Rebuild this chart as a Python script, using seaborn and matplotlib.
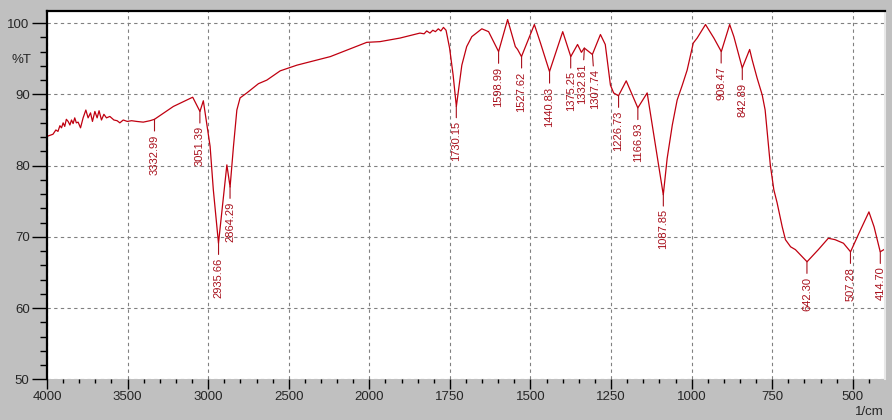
import numpy as np
import pandas as pd
import matplotlib
matplotlib.use('Agg')
import matplotlib.pyplot as plt
from matplotlib import font_manager
from matplotlib.ticker import FixedLocator, NullFormatter
import seaborn as sns

# -------------------------------
# Spectrum data
# -------------------------------
wavenumber = [
    4000, 3963, 3945, 3932, 3920, 3910, 3900, 3890, 3880, 3869, 3858, 3848,
    3838, 3828, 3818, 3807, 3792, 3776, 3759, 3745, 3730, 3718, 3703, 3689,
    3677, 3662, 3647, 3631, 3610, 3585, 3565, 3548, 3527, 3502, 3475, 3444,
    3403, 3361, 3333, 3216, 3096, 3051, 3030, 2988, 2968, 2936, 2884, 2864,
    2843, 2822, 2802, 2760, 2688, 2636, 2553, 2449, 2242, 2016, 1967, 1905,
    1843, 1830, 1822, 1812, 1803, 1795, 1786, 1778, 1770, 1762, 1751, 1740,
    1730, 1713, 1698, 1682, 1651, 1630, 1599, 1571, 1547, 1540, 1528, 1488,
    1469, 1441, 1400, 1375, 1354, 1342, 1333, 1308, 1283, 1268, 1252, 1242,
    1227, 1203, 1167, 1138, 1088, 1076, 1060, 1045, 1029, 1014, 995, 983,
    957, 931, 908, 882, 869, 843, 820, 812, 797, 781, 772, 756, 745, 735,
    719, 709, 693, 678, 642, 607, 576, 555, 529, 507, 481, 450, 434, 415,
    404, 400,
]
transmittance = [
    84.1, 84.4, 85.0, 84.8, 85.6, 85.3, 86.0, 85.5, 86.5, 86.2, 85.7, 86.4,
    85.9, 86.7, 86.0, 86.1, 85.3, 86.7, 87.8, 86.7, 87.4, 86.2, 87.6, 86.7,
    87.7, 86.4, 87.2, 86.7, 86.9, 86.4, 86.3, 86.0, 86.4, 86.2, 86.3, 86.2,
    86.1, 86.3, 86.5, 88.3, 89.6, 87.6, 89.1, 82.7, 76.6, 69.1, 80.1, 77.0,
    82.7, 87.8, 89.5, 90.2, 91.5, 92.0, 93.3, 94.1, 95.3, 97.3, 97.4, 97.9,
    98.6, 98.5, 98.9, 98.6, 99.0, 98.8, 99.2, 98.9, 99.4, 99.0, 96.5, 92.7,
    88.3, 94.1, 96.7, 98.1, 99.2, 98.8, 96.0, 100.5, 96.7, 96.3, 95.3, 99.8,
    97.2, 93.2, 98.8, 95.3, 97.0, 95.9, 96.5, 95.6, 98.4, 97.0, 91.3, 90.2,
    89.8, 91.9, 88.1, 90.2, 75.9, 81.0, 85.7, 89.2, 91.3, 93.4, 97.2, 97.9,
    99.8, 97.9, 96.0, 99.8, 98.1, 93.7, 96.3, 94.8, 92.3, 89.9, 87.8, 80.1,
    76.6, 74.8, 71.4, 69.6, 68.6, 68.2, 66.5, 68.2, 69.8, 69.6, 69.1, 67.9,
    70.5, 73.5, 71.4, 67.9, 68.2, 68.3,
]

peak_labels = ["3332.99", "3051.39", "2935.66", "2864.29", "1730.15", "1598.99",
               "1527.62", "1440.83", "1375.25", "1332.81", "1307.74", "1226.73",
               "1166.93", "1087.85", "908.47", "842.89", "642.30", "507.28",
               "414.70"]

major_xticks = [4000, 3500, 3000, 2500, 2000, 1750, 1500, 1250, 1000, 750, 500]
yticks = [50, 60, 70, 80, 90, 100]

df = pd.DataFrame({'wavenumber': wavenumber, 'transmittance': transmittance})

# -------------------------------
# Style
# -------------------------------
sns.set_style('white')
try:
    font_manager.findfont('Liberation Sans Narrow', fallback_to_default=False)
    fam = 'Liberation Sans Narrow'
except ValueError:
    fam = 'Liberation Sans'
plt.rcParams['font.family'] = [fam, 'DejaVu Sans']

line_color = '#c00010'
label_color = '#a8101c'

fig = plt.figure(figsize=(8.92, 4.2), dpi=100, facecolor='#c0c0c0')
ax = fig.add_axes([0.0527, 0.0969, 0.9395, 0.8769])
ax.set_facecolor('white')


# x axis is compressed by 2 above 2000 1/cm (like the instrument printout)
def fwd(x):
    x = np.asarray(x, dtype=float)
    return np.where(x > 2000, 2000 + (x - 2000) / 2, x)


def inv(x):
    x = np.asarray(x, dtype=float)
    return np.where(x > 2000, 2000 + (x - 2000) * 2, x)


ax.set_xscale('function', functions=(fwd, inv))

sns.lineplot(data=df, x='wavenumber', y='transmittance', ax=ax, color=line_color,
             linewidth=0.9, sort=False, estimator=None, legend=False)

ax.set_xlim(4000, 400)
ax.set_ylim(50, 101.7)

minor_x = list(range(3900, 2000, -100)) + list(range(1950, 400, -50))
ax.xaxis.set_major_locator(FixedLocator(major_xticks))
ax.xaxis.set_minor_locator(FixedLocator(minor_x))
ax.xaxis.set_minor_formatter(NullFormatter())
ax.set_xticklabels([str(t) for t in major_xticks])
ax.yaxis.set_major_locator(FixedLocator(yticks))
ax.yaxis.set_minor_locator(FixedLocator([v for v in range(50, 101, 2) if v % 10]))
ax.set_yticklabels([str(t) for t in yticks])

ax.tick_params(axis='x', which='major', direction='out', length=7, width=1,
               color='black', labelsize=9.5, pad=1.5, bottom=True)
ax.tick_params(axis='x', which='minor', direction='out', length=3, width=1,
               color='black', bottom=True)
ax.tick_params(axis='y', which='major', direction='out', length=11, width=1,
               color='black', labelsize=9.5, pad=1.5, left=True)
ax.tick_params(axis='y', which='minor', direction='out', length=5, width=1,
               color='black', left=True)

ax.grid(True, which='major', color='#808080', linestyle=(0, (3, 3)), linewidth=0.8)

ax.spines['left'].set_color('black')
ax.spines['left'].set_linewidth(1.6)
ax.spines['top'].set_color('black')
ax.spines['top'].set_linewidth(1.6)
ax.spines['right'].set_color('#e8e8e8')
ax.spines['right'].set_linewidth(1.5)
ax.spines['bottom'].set_visible(False)

ax.set_xlabel('')
ax.set_ylabel('')
fig.text(21 / 892, 1 - 60 / 420, '%T', fontsize=9.5, ha='center', va='center')
fig.text(869 / 892, 1 - 412 / 420, '1/cm', fontsize=9.5, ha='center', va='center')

# peak labels; two crowded ones are nudged sideways as on the printout
nudge = {"1332.81": -2, "1307.74": 2.5}
wn_inc = np.array(wavenumber[::-1], dtype=float)
tr_inc = np.array(transmittance[::-1], dtype=float)
for lab in peak_labels:
    w = float(lab)
    t = np.interp(w, wn_inc, tr_inc)
    ax.annotate(lab, xy=(w, t), xytext=(nudge.get(lab, 0), -15),
                textcoords='offset pixels', rotation=90, ha='center', va='top',
                fontsize=8, color=label_color,
                arrowprops=dict(arrowstyle='-', color=label_color, lw=0.8,
                                shrinkA=0, shrinkB=0))

fig.savefig('out.png', dpi=100, facecolor=fig.get_facecolor())
